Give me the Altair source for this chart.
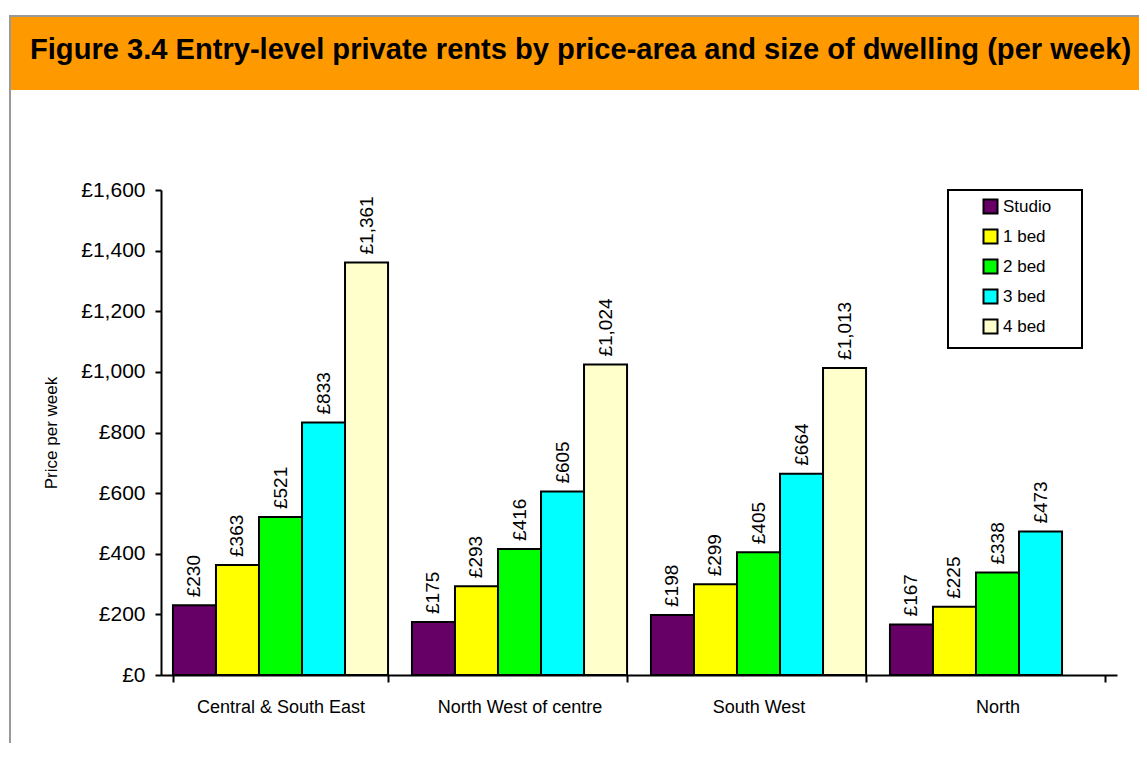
import altair as alt
import pandas as pd

# ---- data ----
areas = ["Central & South East", "North West of centre", "South West", "North"]
sizes = ["Studio", "1 bed", "2 bed", "3 bed", "4 bed"]
size_colors = ["#660066", "#FFFF00", "#00FF00", "#00FFFF", "#FFFFCC"]
central_south_east = [230, 363, 521, 833, 1361]
north_west_of_centre = [175, 293, 416, 605, 1024]
south_west = [198, 299, 405, 664, 1013]
north = [167, 225, 338, 473]
y_ticks = [0, 200, 400, 600, 800, 1000, 1200, 1400, 1600]
title_text = "Figure 3.4 Entry-level private rents by price-area and size of dwelling (per week)"
y_title = "Price per week"

rows = []
for area, vals in zip(areas, [central_south_east, north_west_of_centre, south_west, north]):
    for s, v in zip(sizes, vals):
        rows.append({"area": area, "size": s, "rent": v, "label": f"£{v:,}"})
df = pd.DataFrame(rows)

FONT = "Liberation Sans"
PW, PH = 956, 485
one = pd.DataFrame({"k": [0]})

x_enc = alt.X(
    "area:N", sort=areas,
    scale=alt.Scale(domain=areas, paddingInner=0.1, paddingOuter=0.05),
    axis=alt.Axis(title=None, labelAngle=0, labelFontSize=18, labelPadding=16,
                  tickBand="extent", tickSize=7, labelFont=FONT),
)
xoff_enc = alt.XOffset("size:N", sort=sizes, scale=alt.Scale(domain=sizes))
y_enc = alt.Y(
    "rent:Q",
    scale=alt.Scale(domain=[0, 1600], nice=False),
    axis=alt.Axis(values=y_ticks, labelExpr="'£' + format(datum.value, ',')",
                  title=y_title, titleAngle=270, titleX=-110, titleY=PH / 2,
                  titleAlign="center", titleBaseline="middle", titleFontSize=17,
                  titleFontWeight="normal", titleFont=FONT, grid=False,
                  labelFontSize=21, tickSize=6, labelPadding=10, labelFont=FONT),
)
color_enc = alt.Color(
    "size:N", sort=sizes,
    scale=alt.Scale(domain=sizes, range=size_colors),
    legend=alt.Legend(title=None, orient="none", legendX=821, legendY=8,
                      symbolType="square", symbolSize=196,
                      symbolStrokeColor="black", symbolStrokeWidth=2,
                      labelFontSize=17, labelFont=FONT, labelColor="black",
                      rowPadding=7, labelOffset=4, padding=0),
)

frame = alt.Chart(one).mark_rect(fill="transparent", stroke="#999999", strokeWidth=2).encode(
    x=alt.value(-151), x2=alt.value(1300), y=alt.value(-174), y2=alt.value(900))
banner = alt.Chart(one).mark_rect(color="#FF9900").encode(
    x=alt.value(-150), x2=alt.value(1000), y=alt.value(-173), y2=alt.value(-100))
title = alt.Chart(one).mark_text(align="left", baseline="alphabetic", fontSize=29.1,
                                 fontWeight="bold", font=FONT, color="black").encode(
    x=alt.value(-131), y=alt.value(-131), text=alt.value(title_text))
legend_box = alt.Chart(one).mark_rect(fill="white", stroke="black", strokeWidth=2).encode(
    x=alt.value(787), x2=alt.value(921), y=alt.value(0), y2=alt.value(158))

base = alt.Chart(df)
bars = base.mark_bar(stroke="black", strokeWidth=2).encode(
    x=x_enc, xOffset=xoff_enc, y=y_enc, color=color_enc)
labels = base.mark_text(angle=270, align="left", baseline="middle", dx=8,
                        fontSize=19, font=FONT, color="black").encode(
    x=alt.X("area:N", sort=areas), xOffset=alt.XOffset("size:N", sort=sizes),
    y="rent:Q", text="label:N")

chart = alt.layer(frame, banner, title, legend_box, bars, labels).properties(
    width=PW, height=PH,
    autosize=alt.AutoSizeParams(type="none"),
    padding={"left": 153, "top": 182, "right": 22, "bottom": 68},
    background="white",
).configure_view(stroke="transparent").configure_axis(
    domainColor="black", domainWidth=2, tickColor="black", tickWidth=2,
    labelColor="black", titleColor="black",
)

chart.save("out.html", embed_options={"renderer": "svg", "actions": False})
